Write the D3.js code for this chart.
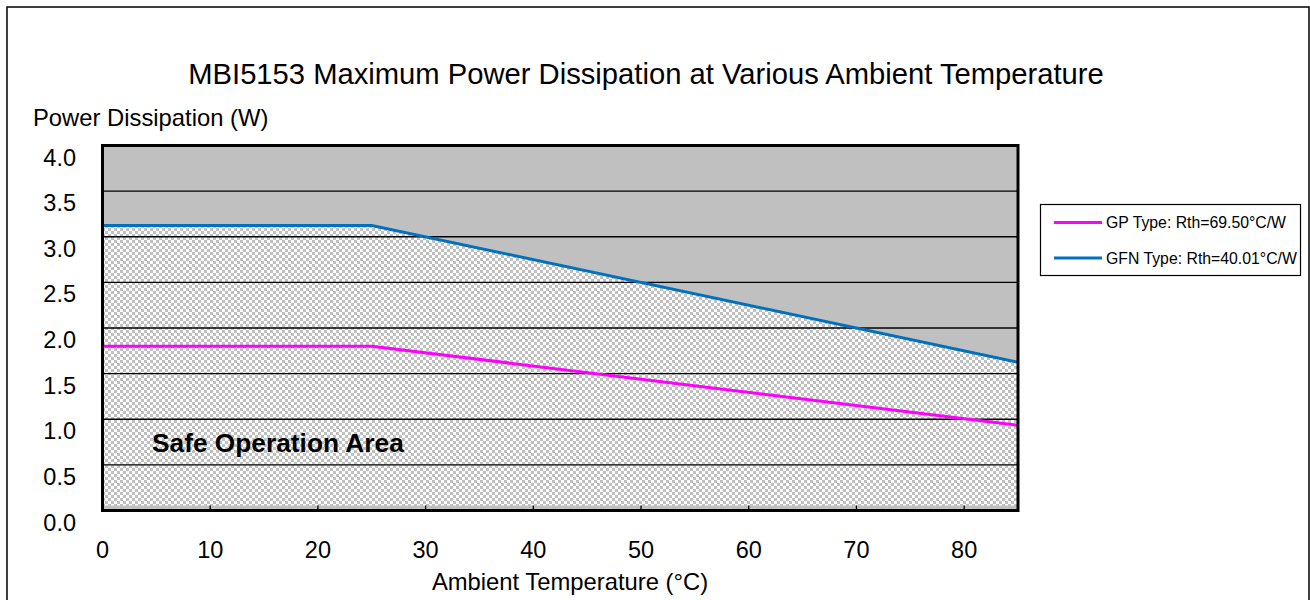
<!DOCTYPE html>
<html><head><meta charset="utf-8">
<script src="https://cdn.jsdelivr.net/npm/d3@7/dist/d3.min.js"></script>
<style>body{margin:0;background:#fff}svg{display:block;font-family:"Liberation Sans",Arial,sans-serif}</style>
</head><body><svg id="c" width="1310" height="600"></svg>
<script>
const temps = [0, 25, 85];
const gpPower = [1.80, 1.80, 0.935];
const gfnPower = [3.124, 3.124, 1.625];
const xTicks = [0, 10, 20, 30, 40, 50, 60, 70, 80];
const yTicks = [0.0, 0.5, 1.0, 1.5, 2.0, 2.5, 3.0, 3.5, 4.0];
const seriesNames = ["GP Type: Rth=69.50°C/W", "GFN Type: Rth=40.01°C/W"];
const seriesColors = ["#ff00ff", "#0070c0"];

const svg = d3.select("#c");
const L = 102.5, R = 1018, T = 145.5, B = 510.5;
const x = d3.scaleLinear().domain([0, 85]).range([L, R]);
const y = d3.scaleLinear().domain([0, 4]).range([B, T]);

// outer frame
svg.append("rect").attr("x", 7).attr("y", 7).attr("width", 1302).attr("height", 620)
  .attr("fill", "none").attr("stroke", "#000").attr("stroke-width", 1.5);

// pattern
const defs = svg.append("defs");
const pat = defs.append("pattern").attr("id", "chk").attr("patternUnits", "userSpaceOnUse")
  .attr("width", 6).attr("height", 6);
pat.append("rect").attr("width", 6).attr("height", 6).attr("fill", "#ffffff");
pat.append("rect").attr("width", 3).attr("height", 3).attr("fill", "#c0c0c0");
pat.append("rect").attr("x", 3).attr("y", 3).attr("width", 3).attr("height", 3).attr("fill", "#c0c0c0");

// plot background
svg.append("rect").attr("x", L).attr("y", T).attr("width", R - L).attr("height", B - T).attr("fill", "#c0c0c0");

const gfnData = temps.map((t, i) => ({t, p: gfnPower[i]}));
const gpData = temps.map((t, i) => ({t, p: gpPower[i]}));

svg.append("path").datum(gfnData)
  .attr("d", d3.area().x(d => x(d.t)).y0(B - 5).y1(d => y(d.p)))
  .attr("fill", "url(#chk)");

// gridlines
svg.append("g").selectAll("line").data(yTicks.filter(v => v > 0 && v < 4)).join("line")
  .attr("x1", L).attr("x2", R).attr("y1", d => y(d)).attr("y2", d => y(d))
  .attr("stroke", "#000").attr("stroke-width", 1.3);

// x ticks (inside)
svg.append("g").selectAll("line").data(xTicks.filter(v => v > 0)).join("line")
  .attr("x1", d => x(d)).attr("x2", d => x(d)).attr("y1", B).attr("y2", B - 5)
  .attr("stroke", "#000").attr("stroke-width", 1.3);

// lines
const line = d3.line().x(d => x(d.t)).y(d => y(d.p));
svg.append("path").datum(gfnData).attr("d", line).attr("fill", "none")
  .attr("stroke", seriesColors[1]).attr("stroke-width", 3);
svg.append("path").datum(gpData).attr("d", line).attr("fill", "none")
  .attr("stroke", seriesColors[0]).attr("stroke-width", 3);

// plot frame
svg.append("rect").attr("x", L).attr("y", T).attr("width", R - L).attr("height", B - T)
  .attr("fill", "none").attr("stroke", "#000").attr("stroke-width", 3);

// tick labels
svg.append("g").selectAll("text").data(yTicks).join("text")
  .attr("x", 76).attr("y", d => y(d) + 20).attr("text-anchor", "end")
  .attr("font-size", 23.5).text(d => d.toFixed(1));
svg.append("g").selectAll("text").data(xTicks).join("text")
  .attr("x", d => x(d)).attr("y", 558).attr("text-anchor", "middle")
  .attr("font-size", 23.5).text(d => d);

// titles
svg.append("text").attr("x", 646).attr("y", 84).attr("text-anchor", "middle")
  .attr("font-size", 29.2).text("MBI5153 Maximum Power Dissipation at Various Ambient Temperature");
svg.append("text").attr("x", 33).attr("y", 125.5).attr("font-size", 23.8).text("Power Dissipation (W)");
svg.append("text").attr("x", 570).attr("y", 590).attr("text-anchor", "middle")
  .attr("font-size", 23.8).text("Ambient Temperature (°C)");
svg.append("text").attr("x", 152).attr("y", 452).attr("font-size", 26.3).attr("font-weight", "bold")
  .text("Safe Operation Area");

// legend
svg.append("rect").attr("x", 1040.5).attr("y", 204.5).attr("width", 260).attr("height", 71)
  .attr("fill", "#fff").attr("stroke", "#000").attr("stroke-width", 1.2);
const lg = svg.append("g").selectAll("g").data(seriesNames).join("g")
  .attr("transform", (d, i) => `translate(0,${222.5 + i * 35.5})`);
lg.append("line").attr("x1", 1054).attr("x2", 1102).attr("stroke", (d, i) => seriesColors[i]).attr("stroke-width", 3);
lg.append("text").attr("x", 1106).attr("y", 5.5).attr("font-size", 15.8).text(d => d);
</script></body></html>
